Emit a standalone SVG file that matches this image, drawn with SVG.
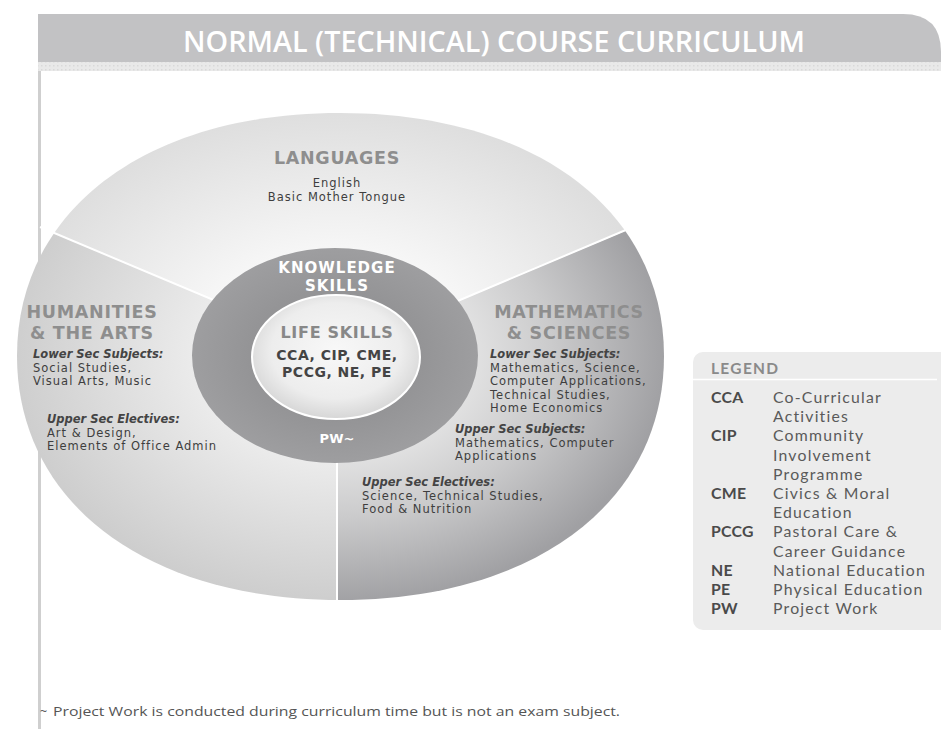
<svg xmlns="http://www.w3.org/2000/svg" width="941" height="729" viewBox="0 0 941 729">
<style>
.title{font-family:"Open Sans","DejaVu Sans",sans-serif;font-weight:600;font-size:29px;fill:#ffffff;}
.sec{font-family:"DejaVu Sans",sans-serif;font-weight:bold;font-size:17.5px;fill:#8e8e8e;letter-spacing:0.7px;text-anchor:middle;}
.body{font-family:"DejaVu Sans",sans-serif;font-size:11.5px;fill:#3e3e3e;letter-spacing:1px;}
.lbl{font-family:"DejaVu Sans",sans-serif;font-weight:bold;font-style:italic;font-size:11.5px;fill:#444;}
.mid{text-anchor:middle;}
.ks{font-family:"DejaVu Sans",sans-serif;font-weight:bold;font-size:15px;fill:#ffffff;letter-spacing:1px;text-anchor:middle;}
.ls{font-family:"DejaVu Sans",sans-serif;font-weight:bold;font-size:16px;fill:#888;letter-spacing:0.7px;text-anchor:middle;}
.lsb{font-family:"DejaVu Sans",sans-serif;font-weight:bold;font-size:14px;fill:#444;letter-spacing:0.5px;text-anchor:middle;}
.pw{font-family:"DejaVu Sans",sans-serif;font-weight:bold;font-size:13px;fill:#ffffff;text-anchor:middle;}
.lgh{font-family:Lato,"Open Sans",sans-serif;font-weight:bold;font-size:15.5px;fill:#8a8a8a;letter-spacing:1.3px;}
.lga{font-family:Lato,"Open Sans",sans-serif;font-weight:bold;font-size:15.8px;fill:#4a4a4a;letter-spacing:0.3px;}
.lgd{font-family:Lato,"Open Sans",sans-serif;font-size:15.8px;fill:#5a5a5a;letter-spacing:1.2px;}
.foot{font-family:"Open Sans","DejaVu Sans",sans-serif;font-size:12.5px;fill:#555;}
.div{stroke:#ffffff;stroke-width:2;fill:none;}
</style>
<defs>
<path id="outer" d="M340,113 C534.4,113 664,210.2 664,356 C664,502.4 534.4,600 340,600 C146.2,600 17,502.4 17,356 C17,210.2 146.2,113 340,113 Z"/>
<clipPath id="clipOuter"><use href="#outer"/></clipPath>
<radialGradient id="gLang" gradientUnits="userSpaceOnUse" cx="337" cy="356" r="330" gradientTransform="translate(337 356) scale(1 0.75) translate(-337 -356)">
<stop offset="0.3" stop-color="#fcfcfc"/><stop offset="1" stop-color="#dedede"/>
</radialGradient>
<radialGradient id="gHum" gradientUnits="userSpaceOnUse" cx="337" cy="356" r="330" gradientTransform="translate(337 356) scale(1 0.75) translate(-337 -356)">
<stop offset="0.3" stop-color="#f2f2f2"/><stop offset="1" stop-color="#cdcdcd"/>
</radialGradient>
<radialGradient id="gMath" gradientUnits="userSpaceOnUse" cx="337" cy="356" r="330" gradientTransform="translate(337 356) scale(1 0.75) translate(-337 -356)">
<stop offset="0.3" stop-color="#ececec"/><stop offset="0.65" stop-color="#cbcbcc"/><stop offset="1" stop-color="#a0a0a3"/>
</radialGradient>
<radialGradient id="gRing" cx="0.5" cy="0.5" r="0.5">
<stop offset="0.6" stop-color="#949496"/><stop offset="1" stop-color="#9e9ea0"/>
</radialGradient>
<radialGradient id="gLife" cx="0.5" cy="0.45" r="0.55">
<stop offset="0" stop-color="#f8f8f8"/><stop offset="0.7" stop-color="#ededed"/><stop offset="1" stop-color="#d6d6d6"/>
</radialGradient>
<pattern id="dots" width="4" height="4" patternUnits="userSpaceOnUse">
<rect width="4" height="4" fill="#e9e9e9"/><rect x="1" y="1" width="1.5" height="1.5" fill="#d9d9d9"/>
</pattern>
</defs>

<g id="frame">
<path d="M38,14 H903 Q941,14 941,52 V62 H38 Z" fill="#c2c2c4"/>
<rect x="38" y="62" width="903" height="9" fill="url(#dots)"/>
<line x1="39.5" y1="71" x2="39.5" y2="729" stroke="#cfcfcf" stroke-width="3"/>
<text class="title" x="183" y="52" textLength="622" lengthAdjust="spacingAndGlyphs">NORMAL (TECHNICAL) COURSE CURRICULUM</text>
</g>

<g id="sectors" clip-path="url(#clipOuter)">
<polygon id="languages-bg" points="337,352 -227,114 -227,0 903,0 903,114" fill="url(#gLang)"/>
<polygon id="humanities-bg" points="337,352 -227,114 -227,800 337,800" fill="url(#gHum)"/>
<polygon id="math-bg" points="337,352 903,114 903,800 337,800" fill="url(#gMath)"/>
</g>

<g id="connectors">
<line class="div" x1="337" y1="352" x2="40" y2="227"/>
<line class="div" x1="337" y1="352" x2="640" y2="224"/>
<line class="div" x1="337" y1="352" x2="337" y2="600"/>
</g>

<g id="languages">
<text class="sec" x="337" y="164">LANGUAGES</text>
<text class="body mid" x="337" y="187">English</text>
<text class="body mid" x="337" y="200.5">Basic Mother Tongue</text>
</g>

<g id="humanities">
<text class="sec" x="92" y="317.5">HUMANITIES</text>
<text class="sec" x="92" y="338.5">&amp; THE ARTS</text>
<text class="lbl" x="33" y="358">Lower Sec Subjects:</text>
<text class="body" x="33" y="371.5">Social Studies,</text>
<text class="body" x="33" y="385">Visual Arts, Music</text>
<text class="lbl" x="47" y="423">Upper Sec Electives:</text>
<text class="body" x="47" y="436.5">Art &amp; Design,</text>
<text class="body" x="47" y="450">Elements of Office Admin</text>
</g>

<g id="math">
<text class="sec" x="569" y="317.5">MATHEMATICS</text>
<text class="sec" x="569" y="338.5">&amp; SCIENCES</text>
<text class="lbl" x="490" y="358">Lower Sec Subjects:</text>
<text class="body" x="490" y="371.5">Mathematics, Science,</text>
<text class="body" x="490" y="385">Computer Applications,</text>
<text class="body" x="490" y="398.5">Technical Studies,</text>
<text class="body" x="490" y="412">Home Economics</text>
<text class="lbl" x="455" y="433">Upper Sec Subjects:</text>
<text class="body" x="455" y="446.5">Mathematics, Computer</text>
<text class="body" x="455" y="460">Applications</text>
<text class="lbl" x="362" y="486">Upper Sec Electives:</text>
<text class="body" x="362" y="499.5">Science, Technical Studies,</text>
<text class="body" x="362" y="513">Food &amp; Nutrition</text>
</g>

<g id="knowledge-skills">
<ellipse cx="335" cy="355.5" rx="143" ry="107.5" fill="url(#gRing)"/>
<text class="ks" x="337" y="273">KNOWLEDGE</text>
<text class="ks" x="337" y="290.5">SKILLS</text>
<text class="pw" x="337" y="443">PW~</text>
</g>

<g id="life-skills">
<ellipse cx="336" cy="357" rx="84" ry="62" fill="url(#gLife)" stroke="#ffffff" stroke-width="2"/>
<text class="ls" x="337" y="338">LIFE SKILLS</text>
<text class="lsb" x="337" y="360">CCA, CIP, CME,</text>
<text class="lsb" x="337" y="377">PCCG, NE, PE</text>
</g>

<g id="legend">
<rect x="693" y="352" width="270" height="278" rx="10" fill="#ececec"/>
<line x1="693" y1="379.5" x2="937" y2="379.5" stroke="#ffffff" stroke-width="1.5"/>
<text class="lgh" x="711" y="374">LEGEND</text>
<text class="lga" x="711" y="403">CCA</text>
<text class="lgd" x="773" y="403">Co-Curricular</text>
<text class="lgd" x="773" y="422.2">Activities</text>
<text class="lga" x="711" y="441.4">CIP</text>
<text class="lgd" x="773" y="441.4">Community</text>
<text class="lgd" x="773" y="460.6">Involvement</text>
<text class="lgd" x="773" y="479.8">Programme</text>
<text class="lga" x="711" y="499">CME</text>
<text class="lgd" x="773" y="499">Civics &amp; Moral</text>
<text class="lgd" x="773" y="518.2">Education</text>
<text class="lga" x="711" y="537.4">PCCG</text>
<text class="lgd" x="773" y="537.4">Pastoral Care &amp;</text>
<text class="lgd" x="773" y="556.6">Career Guidance</text>
<text class="lga" x="711" y="575.8">NE</text>
<text class="lgd" x="773" y="575.8">National Education</text>
<text class="lga" x="711" y="595">PE</text>
<text class="lgd" x="773" y="595">Physical Education</text>
<text class="lga" x="711" y="614.2">PW</text>
<text class="lgd" x="773" y="614.2">Project Work</text>
</g>

<g id="footnote">
<text class="foot" x="40" y="716">~</text>
<text class="foot" x="53" y="716" textLength="567" lengthAdjust="spacingAndGlyphs">Project Work  is conducted during curriculum time but is not an exam subject.</text>
</g>
</svg>
